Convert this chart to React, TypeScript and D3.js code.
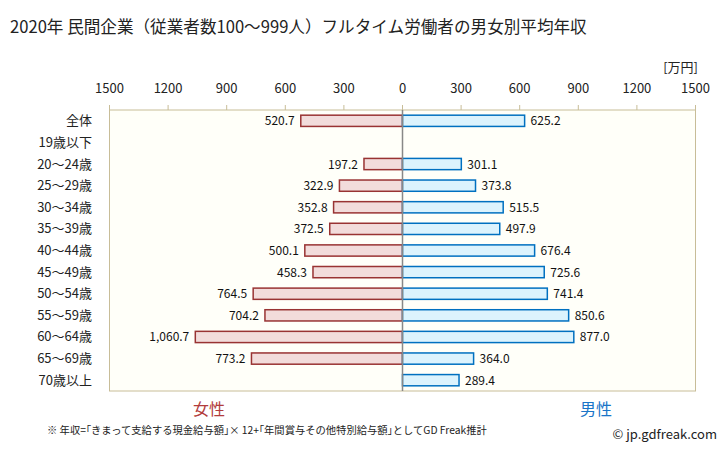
import React from "react";
import * as d3 from "d3";

const categories = ["全体", "19歳以下", "20～24歳", "25～29歳", "30～34歳", "35～39歳", "40～44歳", "45～49歳", "50～54歳", "55～59歳", "60～64歳", "65～69歳", "70歳以上"];
const female: (number | null)[] = [520.7, null, 197.2, 322.9, 352.8, 372.5, 500.1, 458.3, 764.5, 704.2, 1060.7, 773.2, null];
const male: (number | null)[] = [625.2, null, 301.1, 373.8, 515.5, 497.9, 676.4, 725.6, 741.4, 850.6, 877.0, 364.0, 289.4];
const ticks = [0, 300, 600, 900, 1200, 1500];

const W = 728, H = 451;
const left = 109.5, right = 695.5, zero = 402.5, top = 110, bottom = 391;
const font = "'Noto Sans CJK JP', 'Noto Sans', sans-serif";

export default function App() {
  const xR = d3.scaleLinear().domain([0, 1500]).range([zero, right]);
  const xL = d3.scaleLinear().domain([0, 1500]).range([zero, left]);
  const y = d3.scaleBand().domain(categories).range([top, bottom]).paddingInner(0.48).paddingOuter(0.24);
  const fmt = (v: number) => d3.format(",.1f")(v);
  return (
    <svg width={W} height={H} style={{ position: "absolute", left: 0, top: 0, background: "#fff" }} fontFamily={font}>
      <text x={10} y={33} fontSize={16.6} fill="#222">2020年 民間企業（従業者数100～999人）フルタイム労働者の男女別平均年収</text>
      <text x={698} y={72} fontSize={13} fill="#222" textAnchor="end">[万円]</text>
      <rect x={left} y={top} width={right - left} height={bottom - top} fill="#fffff9" stroke="#c8bd98" strokeWidth={1} />
      {ticks.map((t) => (
        <g key={"r" + t}>
          <line x1={xR(t)} x2={xR(t)} y1={top - 5} y2={top} stroke="#c8bd98" />
          <text x={xR(t)} y={93} fontSize={13} textAnchor="middle" fill="#222">{t}</text>
        </g>
      ))}
      {ticks.filter((t) => t > 0).map((t) => (
        <g key={"l" + t}>
          <line x1={xL(t)} x2={xL(t)} y1={top - 5} y2={top} stroke="#c8bd98" />
          <text x={xL(t)} y={93} fontSize={13} textAnchor="middle" fill="#222">{t}</text>
        </g>
      ))}
      {categories.map((c, i) => {
        const yy = y(c)!;
        const bh = y.bandwidth();
        const f = female[i];
        const m = male[i];
        return (
          <g key={c}>
            <text x={92} y={yy + bh / 2 + 4.5} fontSize={13} textAnchor="end" fill="#222">{c}</text>
            {f != null && (
              <>
                <rect x={xL(f)} y={yy} width={zero - xL(f)} height={bh} fill="#f2dcdb" stroke="#993333" strokeWidth={1.5} />
                <text x={xL(f) - 6} y={yy + bh / 2 + 4.5} fontSize={12} textAnchor="end" fill="#111">{fmt(f)}</text>
              </>
            )}
            {m != null && (
              <>
                <rect x={zero} y={yy} width={xR(m) - zero} height={bh} fill="#dcf3fd" stroke="#0070c0" strokeWidth={1.5} />
                <text x={xR(m) + 6} y={yy + bh / 2 + 4.5} fontSize={12} textAnchor="start" fill="#111">{fmt(m)}</text>
              </>
            )}
          </g>
        );
      })}
      <line x1={zero} x2={zero} y1={top} y2={bottom} stroke="#888" strokeWidth={1.5} />
      <text x={209} y={415} fontSize={16} textAnchor="middle" fill="#b23c3c">女性</text>
      <text x={596} y={415} fontSize={16} textAnchor="middle" fill="#1a75c8">男性</text>
      <text x={47} y={434} fontSize={10.3} fill="#222">※ 年収=｢きまって支給する現金給与額｣× 12+｢年間賞与その他特別給与額｣としてGD Freak推計</text>
      <text x={717} y={439} fontSize={13} textAnchor="end" fill="#222">© jp.gdfreak.com</text>
    </svg>
  );
}
